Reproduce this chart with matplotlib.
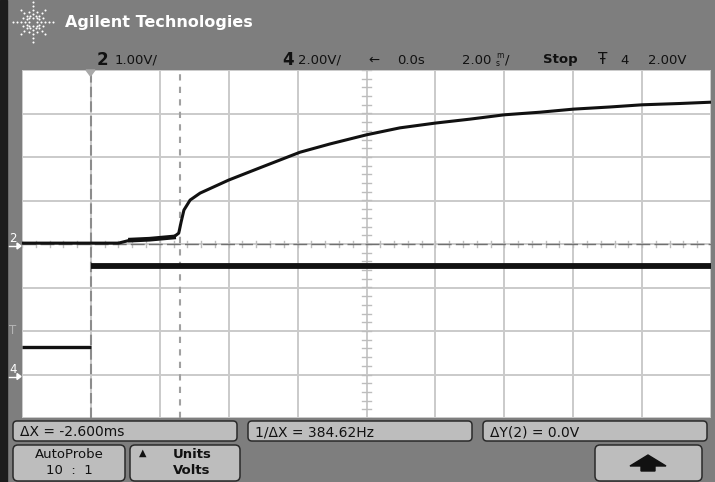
import numpy as np
import matplotlib
matplotlib.use('Agg')
import matplotlib.pyplot as plt
from matplotlib.patches import FancyBboxPatch, Rectangle, Polygon

# Scope settings
time_per_div = 2.0      # ms/div
ch2_volts_per_div = 1.0
ch4_volts_per_div = 2.0
ch2_ground_div = 0.0
ch4_ground_div = -3.0
trigger_level = 2.0     # V on channel 4

# Channel 2 trace (time in ms, volts)
t2 = [-10.0, -7.2, -6.85, -6.3, -5.6, -5.45, -5.38, -5.3, -5.12, -4.83, -4.0,
      -3.1, -1.93, -1.06, 0.0, 0.97, 2.0, 3.0, 4.0, 5.04, 6.0, 7.07, 8.0, 9.1, 10.0]
v2 = [0.02, 0.02, 0.09, 0.11, 0.16, 0.25, 0.51, 0.78, 1.01, 1.17, 1.47,
      1.75, 2.11, 2.30, 2.51, 2.67, 2.78, 2.87, 2.97, 3.03, 3.10, 3.15, 3.20, 3.23, 3.26]

# Channel 4 trace (step)
t4 = [-10.0, -8.0, -8.0, 10.0]
v4 = [1.25, 1.25, 5.0, 5.0]

# Cursors
cursor_x = [-5.4, -8.0]
cursor_y_ch2 = [0.0, 0.0]

header_row = [(97, '2', True), (115, '1.00V/', False), (282, '4', True), (298, '2.00V/', False),
              (368, '\u2190', False), (397, '0.0s', False), (543, 'Stop', True),
              (620, '4', False), (648, '2.00V', False)]
meas_labels = ['\u0394X = -2.600ms', '1/\u0394X = 384.62Hz', '\u0394Y(2) = 0.0V']

W, H = 715, 482
fig = plt.figure(figsize=(W / 100, H / 100), dpi=100)
fig.patch.set_facecolor('#7e7e7e')

# scope graticule
x0, x1, y0, y1 = 22, 711, 70, 418
ax = fig.add_axes([x0 / W, 1 - y1 / H, (x1 - x0) / W, (y1 - y0) / H])
ax.set_facecolor('white')
ax.set_xlim(-5 * time_per_div, 5 * time_per_div)
ax.set_ylim(-4, 4)
for xv in np.arange(-10, 10.1, time_per_div):
    ax.axvline(xv, color='#cacaca', lw=1.4, zorder=1)
for yv in range(-4, 5):
    ax.axhline(yv, color='#cacaca', lw=1.4, zorder=1)
# center axis minor ticks
for xv in np.arange(-10, 10.01, 0.4):
    ax.plot([xv, xv], [-0.07, 0.07], color='#bdbdbd', lw=1, zorder=1)
for yv in np.arange(-4, 4.01, 0.2):
    ax.plot([-0.12, 0.12], [yv, yv], color='#bdbdbd', lw=1, zorder=1)
for s in ax.spines.values():
    s.set_visible(False)
ax.set_xticks([])
ax.set_yticks([])

# cursors
ax.axvline(cursor_x[1], color='#8c8c8c', lw=1.5, ls=(0, (5, 2)), zorder=2)
ax.axvline(cursor_x[0], color='#a0a0a0', lw=1.5, ls=(0, (3, 3)), zorder=2)
ax.axhline(cursor_y_ch2[0] / ch2_volts_per_div + ch2_ground_div, color='#707070',
           lw=1.0, ls=(0, (10, 3)), zorder=2)

# traces
ch2_div = np.array(v2) / ch2_volts_per_div + ch2_ground_div
ch4_div = np.array(v4) / ch4_volts_per_div + ch4_ground_div
ax.plot(t2, ch2_div, color='#111111', lw=2.2, zorder=4, solid_capstyle='butt')
ax.plot(t2[2:5], ch2_div[2:5], color='#111111', lw=3.4, zorder=4)
ax.plot(t4[:2], ch4_div[:2], color='#111111', lw=2.4, zorder=4, solid_capstyle='butt')
ax.plot(t4[2:], ch4_div[2:], color='#111111', lw=4.2, zorder=4, solid_capstyle='butt')

# overlay in pixel coordinates
ov = fig.add_axes([0, 0, 1, 1], zorder=5)
ov.set_xlim(0, W)
ov.set_ylim(H, 0)
ov.axis('off')
ov.patch.set_alpha(0)
ov.add_patch(Rectangle((0, 0), 7, H, color='#1c1c1c'))

# logo
cx, cy = 33, 22
for k in range(16):
    a = np.pi * k / 8
    radii = [5, 9, 13, 17] if k % 2 == 0 else [7, 11]
    if k % 4 == 0:
        radii = [4, 8, 12, 16, 20]
    ov.scatter([cx + r * np.cos(a) for r in radii], [cy + r * np.sin(a) for r in radii],
               s=2.2, color='white', lw=0)
ov.text(65, 23, 'Agilent Technologies', color='white', fontsize=11.5, fontweight='bold',
        va='center', ha='left')

# header row
for xp, txt, bold in header_row:
    ov.text(xp, 60, txt, fontsize=12 if txt in ('2', '4') and bold else 9.5,
            fontweight='bold' if bold else 'normal', color='#111111', va='center', ha='left')
ov.text(462, 60, '2.00', fontsize=9.5, color='#111111', va='center', ha='left')
ov.text(496, 59.5, 'm\ns', fontsize=5.5, color='#111111', va='center', ha='left',
        linespacing=0.85)
ov.text(505, 60, '/', fontsize=9.5, color='#111111', va='center', ha='left')
ov.text(598, 60, '\u0166', fontsize=11, color='#111111', va='center', ha='left')


# left channel markers: number with a small arrow underneath
def ground_marker(y, label):
    ov.text(13, y - 5, label, fontsize=8.5, color='white', va='center', ha='center')
    ov.plot([9, 17], [y + 2, y + 2], color='white', lw=1)
    ov.add_patch(Polygon([(17, y - 1), (21, y + 2), (17, y + 5)], color='white'))


ground_marker(244 - ch2_ground_div * 43.5, '2')
ground_marker(244 - ch4_ground_div * 43.5, '4')
ov.text(13, 244 - (trigger_level / ch4_volts_per_div + ch4_ground_div) * 43.5, 'T',
        fontsize=8.5, color='#b4b4b4', va='center', ha='center')
ov.add_patch(Polygon([(86, 70), (95, 70), (90.5, 76)], color='#a8a8a8'))

# measurement boxes
meas_boxes = [(13, 237), (248, 472), (483, 707)]
for (l, r), lab in zip(meas_boxes, meas_labels):
    ov.add_patch(FancyBboxPatch((l, 421), r - l, 20, boxstyle='round,pad=0,rounding_size=4',
                                fc='#bdbdbd', ec='#2a2a2a', lw=1.1))
    ov.text(l + 7, 432, lab, fontsize=10, color='#111111', va='center', ha='left')

# softkeys
keys = [(13, 125), (130, 240), (595, 702)]
for l, r in keys:
    ov.add_patch(FancyBboxPatch((l, 445), r - l, 36, boxstyle='round,pad=0,rounding_size=5',
                                fc='#bdbdbd', ec='#2a2a2a', lw=1.1))
ov.text(69, 455, 'AutoProbe', fontsize=9.5, color='#111111', va='center', ha='center')
ov.text(69, 470, '10  :  1', fontsize=9.5, color='#111111', va='center', ha='center')
ov.text(143, 453, '\u25b2', fontsize=7, color='#111111', va='center', ha='center')
ov.text(192, 455, 'Units', fontsize=9.5, fontweight='bold', color='#111111', va='center', ha='center')
ov.text(192, 470, 'Volts', fontsize=9.5, fontweight='bold', color='#111111', va='center', ha='center')
ov.add_patch(Polygon([(630, 466), (648, 455), (666, 466), (655, 466), (655, 471),
                      (641, 471), (641, 466)], color='#111111'))

fig.savefig('out.png', dpi=100, facecolor=fig.get_facecolor())
